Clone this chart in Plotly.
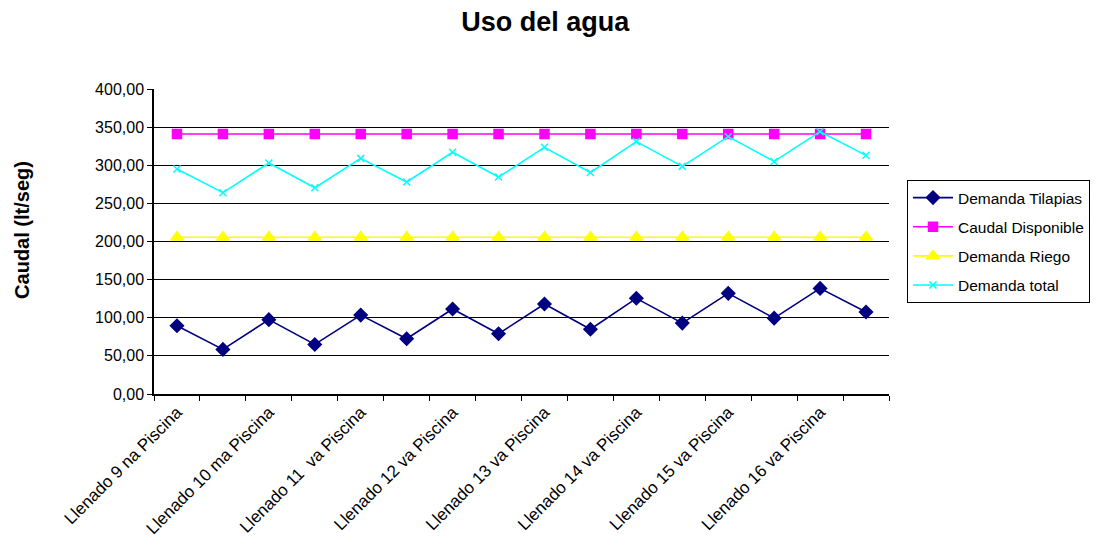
import plotly.graph_objects as go

# Filling stages (only every other one is labelled on the axis)
categorias = [
    "Llenado 9 na Piscina", "Vaciado 9 na Piscina",
    "Llenado 10 ma Piscina", "Vaciado 10 ma Piscina",
    "Llenado 11  va Piscina", "Vaciado 11 va Piscina",
    "Llenado 12 va Piscina", "Vaciado 12 va Piscina",
    "Llenado 13 va Piscina", "Vaciado 13 va Piscina",
    "Llenado 14 va Piscina", "Vaciado 14 va Piscina",
    "Llenado 15 va Piscina", "Vaciado 15 va Piscina",
    "Llenado 16 va Piscina", "Vaciado 16 va Piscina",
]

demanda_tilapias = [89.5, 58.5, 97.5, 65.0, 103.5, 72.5, 111.5, 79.0,
                    118.0, 85.0, 125.5, 93.0, 132.0, 99.5, 138.5, 107.5]
caudal_disponible = [341.0] * 16
demanda_riego = [205.5] * 16
demanda_total = [295.0, 264.0, 303.0, 270.5, 309.0, 278.0, 317.0, 284.5,
                 323.5, 290.5, 331.0, 298.5, 337.5, 305.0, 344.0, 313.0]

y_ticks = [0, 50, 100, 150, 200, 250, 300, 350, 400]

x = list(range(len(categorias)))
etiq_pos = x[::2]
etiq_txt = categorias[::2]

fig = go.Figure()

series = [
    ("Demanda Tilapias", demanda_tilapias, "#000080", "diamond", 10, 1.6),
    ("Caudal Disponible", caudal_disponible, "#FF00FF", "square", 9, 1.6),
    ("Demanda Riego", demanda_riego, "#FFFF00", "triangle-up", 11, 1.6),
    ("Demanda total", demanda_total, "#00FFFF", "x-thin-open", 7, 1.6),
]
for i, (nombre, valores, color, simbolo, tam, ancho) in enumerate(series):
    fig.add_trace(go.Scatter(
        x=x, y=valores, name=nombre, mode="lines+markers",
        legendgroup=f"g{i}",
        line=dict(color=color, width=ancho),
        marker=dict(symbol=simbolo, size=tam, color=color,
                    line=dict(color=color, width=1.5)),
    ))

# Y axis title placed as a rotated annotation left of the tick labels
fig.add_annotation(
    text="<b>Caudal (lt/seg)</b>", textangle=-90,
    xref="paper", yref="paper", x=-0.1796, y=0.538,
    xanchor="center", yanchor="middle", showarrow=False,
    font=dict(size=20, color="black"),
)

fig.update_layout(
    width=1097, height=538,
    margin=dict(l=154, r=208, t=89, b=144, autoexpand=False),
    paper_bgcolor="white", plot_bgcolor="white",
    separators=",.",
    font=dict(family="Liberation Sans, Arial, sans-serif", size=16, color="black"),
    title=dict(text="<b>Uso del agua</b>", x=0.497, xanchor="center",
               y=0.96, yanchor="middle",
               font=dict(size=27, color="black")),
    showlegend=True,
    legend=dict(xref="container", yref="container",
                x=907 / 1097, xanchor="left", y=1 - 180 / 538, yanchor="top",
                bordercolor="black", borderwidth=1, bgcolor="white",
                tracegroupgap=6, itemwidth=40, font=dict(size=15.5)),
    xaxis=dict(
        range=[-0.5, 15.5], tickmode="array", tickvals=etiq_pos,
        ticktext=etiq_txt, tickangle=-45, ticks="", showgrid=False,
        showline=True, linecolor="black", linewidth=1.5, zeroline=False,
        tickfont=dict(size=17), automargin=False,
        minor=dict(tick0=-0.5, dtick=1, ticks="outside", ticklen=5,
                   tickcolor="black", tickwidth=1, showgrid=False),
    ),
    yaxis=dict(
        range=[0, 400], tickmode="array", tickvals=y_ticks,
        tickformat=".2f", ticks="outside", ticklen=5, tickcolor="black",
        showgrid=True, gridcolor="black", gridwidth=1,
        showline=True, linecolor="black", linewidth=1.5, zeroline=False,
        tickfont=dict(size=16), automargin=False,
    ),
)

fig.write_html("out.html")
